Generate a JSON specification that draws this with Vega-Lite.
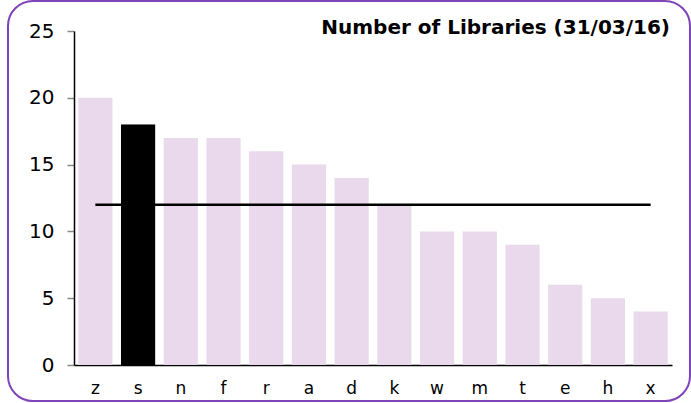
{
  "$schema": "https://vega.github.io/schema/vega-lite/v6.json",
  "width": 682,
  "height": 400,
  "autosize": "none",
  "padding": {"left": 8, "top": 1, "right": 1, "bottom": 2},
  "background": "white",
  "config": {
    "font": "DejaVu Sans",
    "view": {"stroke": "#7E44B8", "strokeWidth": 2, "cornerRadius": 25}
  },
  "title": {
    "text": "Number of Libraries (31/03/16)",
    "anchor": "end",
    "orient": "top",
    "frame": "group",
    "offset": -37,
    "dx": -20,
    "fontSize": 20,
    "fontWeight": "bold",
    "font": "DejaVu Sans",
    "color": "black"
  },
  "data": {
    "values": [
      {"code": "z", "libraries": 20},
      {"code": "s", "libraries": 18},
      {"code": "n", "libraries": 17},
      {"code": "f", "libraries": 17},
      {"code": "r", "libraries": 16},
      {"code": "a", "libraries": 15},
      {"code": "d", "libraries": 14},
      {"code": "k", "libraries": 12},
      {"code": "w", "libraries": 10},
      {"code": "m", "libraries": 10},
      {"code": "t", "libraries": 9},
      {"code": "e", "libraries": 6},
      {"code": "h", "libraries": 5},
      {"code": "x", "libraries": 4}
    ]
  },
  "encoding": {
    "x": {
      "field": "code",
      "type": "nominal",
      "sort": null,
      "scale": {"range": [66, 664], "paddingInner": 0.2, "paddingOuter": 0.1},
      "axis": {
        "title": null,
        "orient": "bottom",
        "offset": -36,
        "ticks": false,
        "labelAngle": 0,
        "labelFontSize": 17,
        "labelPadding": 15,
        "labelColor": "black",
        "domainColor": "black",
        "domainWidth": 1.5,
        "grid": false
      }
    }
  },
  "layer": [
    {
      "mark": {"type": "bar", "color": "#EAD8EC"},
      "encoding": {
        "y": {
          "field": "libraries",
          "type": "quantitative",
          "scale": {"domain": [0, 25], "range": [364, 30], "nice": false},
          "axis": {
            "title": null,
            "orient": "left",
            "offset": -66,
            "values": [0, 5, 10, 15, 20, 25],
            "tickColor": "#888888",
            "tickSize": 7,
            "tickWidth": 1.5,
            "labelFontSize": 20,
            "labelPadding": 13,
            "labelColor": "black",
            "domainColor": "black",
            "domainWidth": 1.5,
            "grid": false
          }
        }
      }
    },
    {
      "mark": {"type": "line", "color": "black", "strokeWidth": 2.5},
      "encoding": {
        "y": {"datum": 12, "type": "quantitative"}
      }
    },
    {
      "transform": [{"filter": "datum.code === 's'"}],
      "mark": {"type": "bar", "color": "black"},
      "encoding": {
        "y": {"field": "libraries", "type": "quantitative"}
      }
    }
  ]
}
